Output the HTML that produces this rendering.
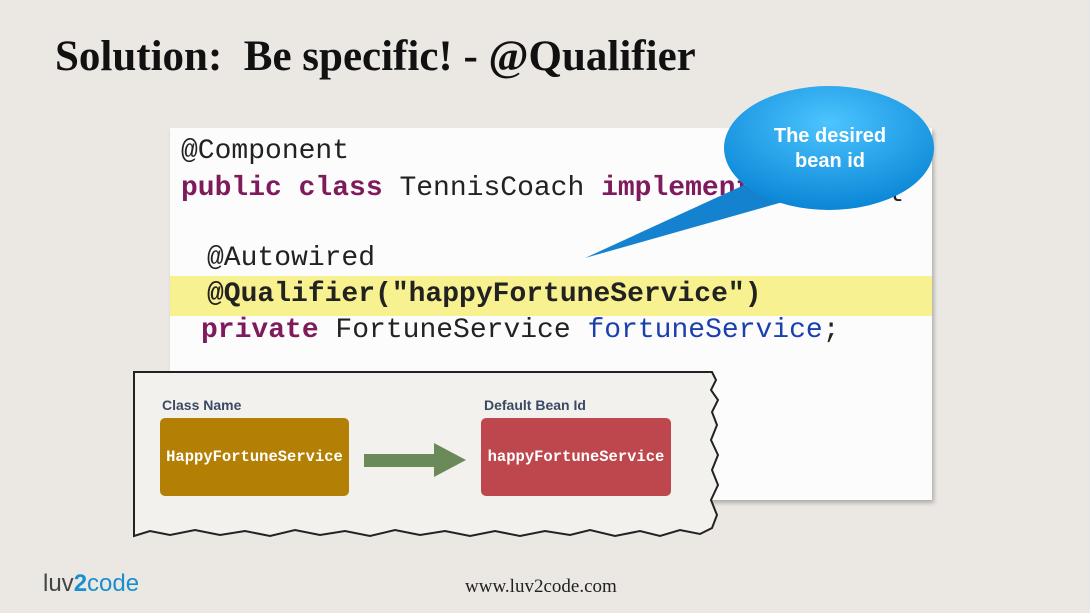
<!DOCTYPE html>
<html><head><meta charset="utf-8"><style>
body{margin:0;width:1090px;height:613px;overflow:hidden;background:#ebe8e3;position:relative;font-family:"Liberation Sans",sans-serif}
.t{position:absolute;left:55px;top:32px;font-family:"Liberation Serif",serif;font-size:43px;font-weight:bold;color:#111;white-space:nowrap}
.panel{position:absolute;left:170px;top:128px;width:762px;height:372px;background:#fcfcfc;box-shadow:2px 3px 4px rgba(0,0,0,.25)}
.hl{position:absolute;left:170px;top:276px;width:762px;height:40px;background:#f8f18f}
.c{position:absolute;font-family:"Liberation Mono",monospace;font-size:28px;color:#222;white-space:pre;line-height:34px}
.k{color:#7f1a5d;font-weight:bold}
.b{color:#1c3fb0}
.lbl{position:absolute;font-size:14px;font-weight:bold;color:#3a4a64}
.box{position:absolute;top:418px;height:78px;border-radius:5px;color:#fff;font-family:"Liberation Mono",monospace;font-weight:bold;font-size:15.5px;display:flex;align-items:center;justify-content:center}
</style></head><body>
<div class="t">Solution:&nbsp; Be specific! - @Qualifier</div>
<div class="panel"></div>
<div class="hl"></div>
<div class="c" style="left:181px;top:135px">@Component</div>
<div class="c" style="left:181px;top:172px"><span class="k">public class</span> TennisCoach <span class="k">implements</span> Coach {</div>
<div class="c" style="left:207px;top:242px">@Autowired</div>
<div class="c" style="left:207px;top:278px;font-weight:bold">@Qualifier("happyFortuneService")</div>
<div class="c" style="left:201px;top:314px"><span class="k">private</span> FortuneService <span class="b">fortuneService</span>;</div>
<svg style="position:absolute;left:0;top:0" width="1090" height="613">
<defs><radialGradient id="g" cx="50%" cy="30%" r="70%"><stop offset="0" stop-color="#4cc4ff"/><stop offset="1" stop-color="#0a86d6"/></radialGradient></defs>
<polygon points="585,258 755,180 790,200" fill="#1582cf"/>
<ellipse cx="829" cy="148" rx="105" ry="62" fill="url(#g)"/>
<polygon points="134,372 712,372 716,380 711,390 718,400 712,412 717,425 711,440 718,455 712,470 718,485 711,500 717,515 712,528 700,534 680,530 660,536 640,531 615,536 590,530 570,535 545,531 520,536 495,531 470,536 445,531 420,535 395,530 370,536 345,531 320,535 295,530 270,536 245,531 220,535 195,530 170,535 150,531 134,536" fill="#f3f1ed" stroke="#222" stroke-width="2"/>
<rect x="364" y="454" width="70" height="13" fill="#6b8a5a"/>
<polygon points="434,443 466,460 434,477" fill="#6b8a5a"/>
</svg>
<div style="position:absolute;left:745px;top:124px;width:170px;text-align:center;color:#fff;font-weight:bold;font-size:20px;line-height:25px">The desired<br>bean id</div>
<div class="lbl" style="left:162px;top:397px">Class Name</div>
<div class="lbl" style="left:484px;top:397px">Default Bean Id</div>
<div class="box" style="left:160px;width:189px;background:#b37f05">HappyFortuneService</div>
<div class="box" style="left:481px;width:190px;background:#bd474c">happyFortuneService</div>
<div style="position:absolute;left:43px;top:570px;font-size:24px;color:#444">luv<span style="color:#1a8fd0;font-weight:bold">2</span><span style="color:#1a8fd0">code</span></div>
<div style="position:absolute;left:465px;top:576px;font-family:'Liberation Serif',serif;font-size:19px;color:#222">www.luv2code.com</div>
</body></html>
